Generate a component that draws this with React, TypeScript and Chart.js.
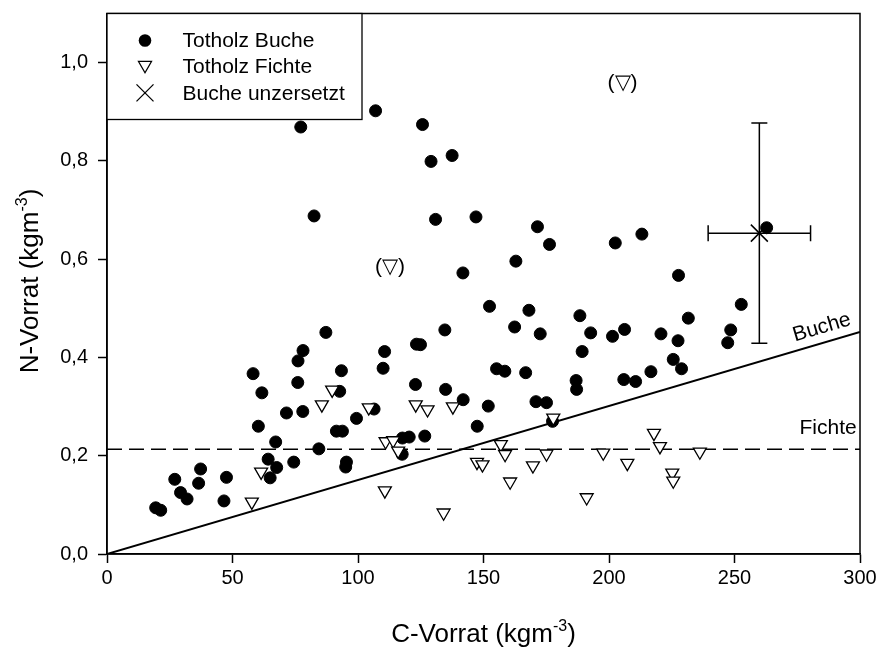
import React, { useEffect, useRef } from "react";
import { Chart, registerables } from "chart.js";

Chart.register(...registerables);

// ---- Data ----
const bucheX = [
  87.2, 78.1, 76.1, 93.4, 58.2, 76.0, 61.7, 92.7, 71.5, 78.0, 60.3, 99.4, 91.4, 93.8, 67.2, 84.4,
  64.2, 95.4, 95.1, 74.4, 67.6, 37.3, 27.0, 65.0, 47.6, 36.5, 29.3, 31.9, 46.6, 19.4, 21.4,
  77.2, 82.5,
  107.0, 125.7, 137.5, 129.1, 130.9, 147.0, 171.5, 176.3, 162.9, 141.8,
  152.4, 168.1, 188.4, 162.4, 134.6, 172.6, 192.7, 201.4, 110.6, 123.3, 124.9, 189.3, 110.0, 155.2,
  158.5, 166.8, 122.9, 186.9, 187.1, 134.9, 141.9, 170.9, 175.1, 106.4, 151.9, 177.5, 147.5, 117.7,
  120.4, 126.6, 117.6,
  213.1, 202.5, 227.7, 262.8,
  252.7, 231.6, 206.2, 220.7, 227.5, 248.5, 247.3, 225.6, 228.9, 216.7, 205.9, 210.6,
];
const bucheY = [
  0.451, 0.414, 0.393, 0.373, 0.367, 0.349, 0.328, 0.331, 0.287, 0.29, 0.26, 0.276, 0.25, 0.25, 0.228, 0.214,
  0.193, 0.187, 0.177, 0.187, 0.176, 0.173, 0.152, 0.155, 0.156, 0.144, 0.125, 0.112, 0.108, 0.094, 0.089,
  0.869, 0.688,
  0.902, 0.874, 0.811, 0.799, 0.681, 0.686, 0.666, 0.63, 0.596, 0.572,
  0.504, 0.496, 0.485, 0.462, 0.456, 0.448, 0.45, 0.443, 0.412, 0.427, 0.426, 0.412, 0.378, 0.377,
  0.372, 0.369, 0.345, 0.353, 0.335, 0.335, 0.314, 0.31, 0.308, 0.295, 0.301, 0.27, 0.26, 0.236,
  0.238, 0.24, 0.203,
  0.651, 0.633, 0.567, 0.664,
  0.508, 0.48, 0.457, 0.448, 0.434, 0.456, 0.43, 0.396, 0.377, 0.371, 0.355, 0.351,
];
const fichteX = [
  89.7, 85.6, 61.4, 57.7,
  104.3, 123.0, 127.7, 137.8, 177.8, 111.0, 114.0, 116.0, 156.9, 158.6, 147.4, 149.6, 175.1, 169.7,
  197.7, 160.6, 110.7, 191.1, 134.1,
  217.9, 220.3, 207.3, 236.2, 225.2, 225.6,
];
const fichteY = [
  0.334, 0.304, 0.167, 0.106,
  0.298, 0.304, 0.294, 0.3, 0.277, 0.229, 0.231, 0.21, 0.223, 0.203, 0.187, 0.182, 0.204, 0.18,
  0.206, 0.147, 0.129, 0.115, 0.084,
  0.246, 0.219, 0.185, 0.208, 0.165, 0.149,
];
const unzersetztX = [259.9];
const unzersetztY = [0.653];
const unzersetztErrX = [20.4];
const unzersetztErrY = [0.224];

const bucheLineX = [0, 300];
const bucheLineY = [0, 0.452];
const fichteLineX = [0, 300];
const fichteLineY = [0.213, 0.213];

const outlierX = [205.4, 112.7];
const outlierY = [0.958, 0.583];
const outlierText = "(\u25BD)";

const xTickValues = [0, 50, 100, 150, 200, 250, 300];
const yTickValues = [0, 0.2, 0.4, 0.6, 0.8, 1.0];
const legendLabels = ["Totholz Buche", "Totholz Fichte", "Buche unzersetzt"];
const lineLabels = ["Buche", "Fichte"];

const FONT = "'Liberation Sans', Arial, Helvetica, sans-serif";

const zip = (xs: number[], ys: number[]) => xs.map((x, i) => ({ x, y: ys[i] }));

function drawDownTriangle(ctx: CanvasRenderingContext2D, x: number, y: number, r: number) {
  ctx.beginPath();
  for (let k = 0; k < 3; k++) {
    const a = Math.PI + k * (2 * Math.PI / 3);
    const px = x + Math.sin(a) * r;
    const py = y - Math.cos(a) * r;
    if (k === 0) ctx.moveTo(px, py);
    else ctx.lineTo(px, py);
  }
  ctx.closePath();
  ctx.fillStyle = "#fff";
  ctx.fill();
  ctx.lineWidth = 1.3;
  ctx.strokeStyle = "#000";
  ctx.stroke();
}

const decorPlugin = {
  id: "decor",
  beforeDatasetsDraw(chart: any) {
    const { ctx, chartArea } = chart;
    ctx.save();
    ctx.strokeStyle = "#000";
    ctx.lineWidth = 1.5;
    ctx.strokeRect(chartArea.left, chartArea.top, chartArea.right - chartArea.left, chartArea.bottom - chartArea.top);
    ctx.restore();
  },
  afterDatasetsDraw(chart: any) {
    const { ctx, chartArea, scales } = chart;
    const xs = scales.x;
    const ys = scales.y;
    ctx.save();
    // error bars
    ctx.strokeStyle = "#000";
    ctx.lineWidth = 1.5;
    for (let i = 0; i < unzersetztX.length; i++) {
      const cx = xs.getPixelForValue(unzersetztX[i]);
      const cy = ys.getPixelForValue(unzersetztY[i]);
      const x1 = xs.getPixelForValue(unzersetztX[i] - unzersetztErrX[i]);
      const x2 = xs.getPixelForValue(unzersetztX[i] + unzersetztErrX[i]);
      const y1 = ys.getPixelForValue(unzersetztY[i] + unzersetztErrY[i]);
      const y2 = ys.getPixelForValue(unzersetztY[i] - unzersetztErrY[i]);
      const cap = 8;
      ctx.beginPath();
      ctx.moveTo(x1, cy); ctx.lineTo(x2, cy);
      ctx.moveTo(x1, cy - cap); ctx.lineTo(x1, cy + cap);
      ctx.moveTo(x2, cy - cap); ctx.lineTo(x2, cy + cap);
      ctx.moveTo(cx, y1); ctx.lineTo(cx, y2);
      ctx.moveTo(cx - cap, y1); ctx.lineTo(cx + cap, y1);
      ctx.moveTo(cx - cap, y2); ctx.lineTo(cx + cap, y2);
      ctx.stroke();
    }
    // outlier annotations
    ctx.fillStyle = "#000";
    ctx.font = `21px ${FONT}`;
    ctx.textAlign = "center";
    ctx.textBaseline = "middle";
    for (let i = 0; i < outlierX.length; i++) {
      ctx.fillText(outlierText, xs.getPixelForValue(outlierX[i]), ys.getPixelForValue(outlierY[i]));
    }
    // line labels
    const bx0 = xs.getPixelForValue(bucheLineX[0]);
    const by0 = ys.getPixelForValue(bucheLineY[0]);
    const bx1 = xs.getPixelForValue(bucheLineX[1]);
    const by1 = ys.getPixelForValue(bucheLineY[1]);
    const ang = Math.atan2(by1 - by0, bx1 - bx0);
    const lx = 286.5;
    const ly = bucheLineY[0] + (bucheLineY[1] - bucheLineY[0]) * (lx - bucheLineX[0]) / (bucheLineX[1] - bucheLineX[0]);
    ctx.save();
    ctx.translate(xs.getPixelForValue(lx), ys.getPixelForValue(ly));
    ctx.rotate(ang);
    ctx.fillText(lineLabels[0], 0, -15);
    ctx.restore();
    ctx.fillText(lineLabels[1], xs.getPixelForValue(287.3), ys.getPixelForValue(fichteLineY[0]) - 21);

    // legend
    const lgX = chartArea.left;
    const lgY = chartArea.top;
    const lgW = 255;
    const lgH = 106;
    ctx.fillStyle = "#fff";
    ctx.fillRect(lgX, lgY, lgW, lgH);
    ctx.strokeStyle = "#000";
    ctx.lineWidth = 1.3;
    ctx.strokeRect(lgX, lgY, lgW, lgH);
    const mx = lgX + 38;
    const tx = lgX + 75.5;
    const rows = [lgY + 27, lgY + 52.7, lgY + 79.4];
    ctx.fillStyle = "#000";
    ctx.beginPath();
    ctx.arc(mx, rows[0], 6.3, 0, Math.PI * 2);
    ctx.fill();
    drawDownTriangle(ctx, mx, rows[1] - 1, 7.5);
    ctx.beginPath();
    const s = 8.5;
    ctx.moveTo(mx - s, rows[2] - s); ctx.lineTo(mx + s, rows[2] + s);
    ctx.moveTo(mx + s, rows[2] - s); ctx.lineTo(mx - s, rows[2] + s);
    ctx.strokeStyle = "#000";
    ctx.lineWidth = 1.3;
    ctx.stroke();
    ctx.fillStyle = "#000";
    ctx.font = `21px ${FONT}`;
    ctx.textAlign = "left";
    ctx.textBaseline = "middle";
    legendLabels.forEach((t, i) => ctx.fillText(t, tx, rows[i] + 1));
    ctx.restore();
  },
  afterDraw(chart: any) {
    const { ctx, chartArea } = chart;
    ctx.save();
    ctx.fillStyle = "#000";
    ctx.textBaseline = "alphabetic";
    ctx.textAlign = "left";
    const drawTitle = (main: string, sup: string, end: string) => {
      ctx.font = `26px ${FONT}`;
      const w1 = ctx.measureText(main).width;
      const w3 = ctx.measureText(end).width;
      ctx.font = `16px ${FONT}`;
      const w2 = ctx.measureText(sup).width;
      const total = w1 + w2 + w3;
      let x = -total / 2;
      ctx.font = `26px ${FONT}`;
      ctx.fillText(main, x, 0);
      x += w1;
      ctx.font = `16px ${FONT}`;
      ctx.fillText(sup, x, -11);
      x += w2;
      ctx.font = `26px ${FONT}`;
      ctx.fillText(end, x, 0);
    };
    ctx.save();
    ctx.translate((chartArea.left + chartArea.right) / 2, 641.5);
    drawTitle("C-Vorrat (kgm", "-3", ")");
    ctx.restore();
    ctx.save();
    ctx.translate(38, 281);
    ctx.rotate(-Math.PI / 2);
    drawTitle("N-Vorrat (kgm", "-3", ")");
    ctx.restore();
    ctx.restore();
  },
};

export default function App() {
  const ref = useRef<HTMLCanvasElement | null>(null);
  useEffect(() => {
    document.body.style.margin = "0";
    const canvas = ref.current;
    if (!canvas) return;
    const chart = new Chart(canvas, {
      type: "scatter",
      data: {
        datasets: [
          {
            label: "Buche unzersetzt",
            data: zip(unzersetztX, unzersetztY),
            pointStyle: "crossRot",
            pointRadius: 12,
            borderColor: "#000",
            borderWidth: 1.5,
            backgroundColor: "#000",
            order: 0,
          },
          {
            label: "Totholz Fichte",
            data: zip(fichteX, fichteY),
            pointStyle: "triangle",
            rotation: 180,
            pointRadius: 7.5,
            borderColor: "#000",
            borderWidth: 1.3,
            backgroundColor: "#fff",
            order: 1,
          },
          {
            label: "Totholz Buche",
            data: zip(bucheX, bucheY),
            pointStyle: "circle",
            pointRadius: 6,
            borderColor: "#000",
            borderWidth: 1,
            backgroundColor: "#000",
            order: 2,
          },
          {
            type: "line",
            label: "Buche",
            data: zip(bucheLineX, bucheLineY),
            borderColor: "#000",
            borderWidth: 2,
            pointRadius: 0,
            fill: false,
            order: 3,
          },
          {
            type: "line",
            label: "Fichte",
            data: zip(fichteLineX, fichteLineY),
            borderColor: "#000",
            borderWidth: 1.5,
            borderDash: [15, 7],
            pointRadius: 0,
            fill: false,
            order: 3,
          },
        ] as any,
      },
      options: {
        responsive: false,
        animation: false,
        events: [],
        layout: { padding: { top: 12, right: 20, left: 0, bottom: 0 } },
        plugins: {
          legend: { display: false },
          tooltip: { enabled: false },
          title: { display: false },
        },
        scales: {
          x: {
            type: "linear",
            min: 0,
            max: 300,
            afterFit: (scale: any) => {
              scale.height = 93;
              scale.paddingLeft = 0;
              scale.paddingRight = 0;
            },
            afterBuildTicks: (scale: any) => { scale.ticks = xTickValues.map((v) => ({ value: v })); },
            grid: { display: true, drawOnChartArea: false, drawTicks: true, tickLength: 9, tickColor: "#000", tickWidth: 1.5 },
            border: { display: true, color: "#000", width: 1.5 },
            ticks: {
              color: "#000",
              font: { family: FONT, size: 20 },
              padding: 3,
              maxRotation: 0,
              autoSkip: false,
              callback: (v: any) => String(v),
            },
          },
          y: {
            type: "linear",
            min: 0,
            max: 1.1,
            afterFit: (scale: any) => {
              scale.width = 107;
              scale.paddingTop = 0;
              scale.paddingBottom = 0;
            },
            afterBuildTicks: (scale: any) => { scale.ticks = yTickValues.map((v) => ({ value: v })); },
            grid: { display: true, drawOnChartArea: false, drawTicks: true, tickLength: 9, tickColor: "#000", tickWidth: 1.5 },
            border: { display: true, color: "#000", width: 1.5 },
            ticks: {
              color: "#000",
              font: { family: FONT, size: 20 },
              padding: 10,
              autoSkip: false,
              callback: (v: any) => Number(v).toFixed(1).replace(".", ","),
            },
          },
        },
      } as any,
      plugins: [decorPlugin],
    });
    return () => chart.destroy();
  }, []);
  return (
    <div style={{ position: "absolute", left: 0, top: 0, width: 880, height: 647, background: "#fff" }}>
      <canvas ref={ref} width={880} height={647} style={{ display: "block" }} />
    </div>
  );
}
